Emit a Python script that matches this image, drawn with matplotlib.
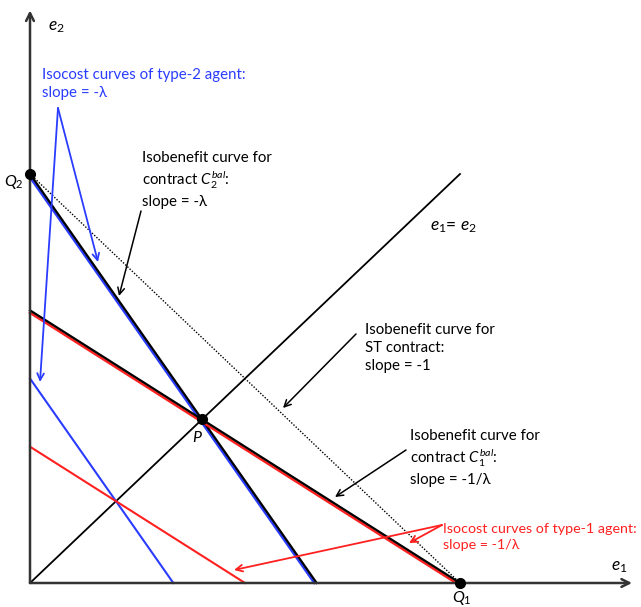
import matplotlib
matplotlib.use("Agg")
import matplotlib.pyplot as plt
import numpy as np

plt.rcParams['font.family'] = ['Lato', 'DejaVu Sans']
plt.rcParams['mathtext.fontset'] = 'custom'
plt.rcParams['mathtext.rm'] = 'Lato'
plt.rcParams['mathtext.it'] = 'Lato:italic'

# Model parameters
lam = 1.5          # lambda
Q1 = 10.0          # output threshold on e1 axis
Q2 = 10.0          # output threshold on e2 axis
P = (4.0, 4.0)     # balanced point on e1 = e2
axis_max = 14.0
# Extra isocost levels (intercepts)
type2_extra_intercept = 5.0          # e2-intercept of lower type-2 isocost
type1_extra_intercept = 5.0          # e1-intercept of lower type-1 isocost

blue = '#2a3cff'
red = '#ff2020'

fig = plt.figure(figsize=(6.41, 6.07), dpi=100)
ax = fig.add_axes([0, 0, 1, 1])
ax.set_xlim(-30 / 43, 611 / 43)
ax.set_ylim(-24 / 40.9, 583 / 40.9)
ax.axis('off')

axc = '#333333'
# Axes with arrowheads
ax.annotate('', xy=(axis_max, 0), xytext=(0, 0),
            arrowprops=dict(arrowstyle='->', color=axc, lw=1.8, mutation_scale=14,
                            shrinkA=0, shrinkB=0))
ax.annotate('', xy=(0, axis_max), xytext=(0, 0),
            arrowprops=dict(arrowstyle='->', color=axc, lw=1.8, mutation_scale=14,
                            shrinkA=0, shrinkB=0))

# 45-degree line e1 = e2
ax.plot([0, 10], [0, 10], color='black', lw=1.3)

# ST contract isobenefit (slope -1)
ax.plot([0, Q1], [Q2, 0], color='black', lw=1.0, ls=(0, (1, 1.2)))

# Isobenefit for C2^bal (slope -lambda) and the type-2 isocost just beneath it
off2 = 0.08
ax.plot([0, (Q2 - off2) / lam], [Q2 - off2, 0], color=blue, lw=1.8)
ax.plot([0, Q2 / lam], [Q2, 0], color='black', lw=1.6)
# Lower type-2 isocost
ax.plot([0, type2_extra_intercept / lam], [type2_extra_intercept, 0], color=blue, lw=1.5)

# Isobenefit for C1^bal (slope -1/lambda) and the type-1 isocost just beneath it
off1 = 0.06
y_int1 = Q1 / lam
ax.plot([0, (y_int1 - off1) * lam], [y_int1 - off1, 0], color=red, lw=1.8)
ax.plot([0, Q1], [y_int1, 0], color='black', lw=1.6)
# Lower type-1 isocost
ax.plot([0, type1_extra_intercept], [type1_extra_intercept / lam, 0], color=red, lw=1.5)

# Points
ax.plot([0, P[0], Q1], [Q2, P[1], 0], 'o', color='black', ms=7, zorder=5)

fs = 10.8
mfs = 12.5
# Labels
ax.text(0.42, 13.6, '$e_2$', fontsize=mfs, ha='left', va='center')
ax.text(13.7, 0.4, '$e_1$', fontsize=mfs, ha='center', va='center')
ax.text(-0.38, 9.8, '$Q_2$', fontsize=mfs - 1, ha='center', va='center')
ax.text(10.05, -0.36, '$Q_1$', fontsize=mfs - 1, ha='center', va='center')
ax.text(3.9, 3.55, '$P$', fontsize=mfs - 1, ha='center', va='center')
ax.text(9.3, 8.7, '$e_1$= $e_2$', fontsize=mfs, ha='left', va='center')


def px(x, y):
    return ((x - 30) / 43, (583 - y) / 40.9)


ax.text(*px(42, 84), 'Isocost curves of type-2 agent:\nslope = -λ', color=blue,
        fontsize=fs, ha='left', va='center', linespacing=1.35)
for tip in [(98, 262), (40, 382)]:
    ax.annotate('', xy=px(*tip), xytext=px(58, 108),
                arrowprops=dict(arrowstyle='->', color=blue, lw=1.3, mutation_scale=12,
                                shrinkA=0, shrinkB=0))

ax.text(*px(142, 180), 'Isobenefit curve for\ncontract $C_2^{bal}$:\nslope = -λ', color='black',
        fontsize=fs, ha='left', va='center', linespacing=1.3)
ax.annotate('', xy=px(119, 296), xytext=px(141, 211),
            arrowprops=dict(arrowstyle='->', color='black', lw=1.1, mutation_scale=12,
                            shrinkA=0, shrinkB=0))

ax.text(*px(365, 348), 'Isobenefit curve for\nST contract:\nslope = -1', color='black',
        fontsize=fs, ha='left', va='center', linespacing=1.35)
ax.annotate('', xy=px(283, 408), xytext=px(356, 334),
            arrowprops=dict(arrowstyle='->', color='black', lw=1.1, mutation_scale=12,
                            shrinkA=0, shrinkB=0))

ax.text(*px(410, 458), 'Isobenefit curve for\ncontract $C_1^{bal}$:\nslope = -1/λ', color='black',
        fontsize=fs, ha='left', va='center', linespacing=1.3)
ax.annotate('', xy=px(335, 497), xytext=px(406, 450),
            arrowprops=dict(arrowstyle='->', color='black', lw=1.1, mutation_scale=12,
                            shrinkA=0, shrinkB=0))

ax.text(*px(443, 537), 'Isocost curves of type-1 agent:\nslope = -1/λ', color=red,
        fontsize=10.3, ha='left', va='center', linespacing=1.4)
for tip in [(409, 543), (234, 570)]:
    ax.annotate('', xy=px(*tip), xytext=px(442, 525),
                arrowprops=dict(arrowstyle='->', color=red, lw=1.3, mutation_scale=12,
                                shrinkA=0, shrinkB=0))

fig.savefig('out.png', dpi=100)
